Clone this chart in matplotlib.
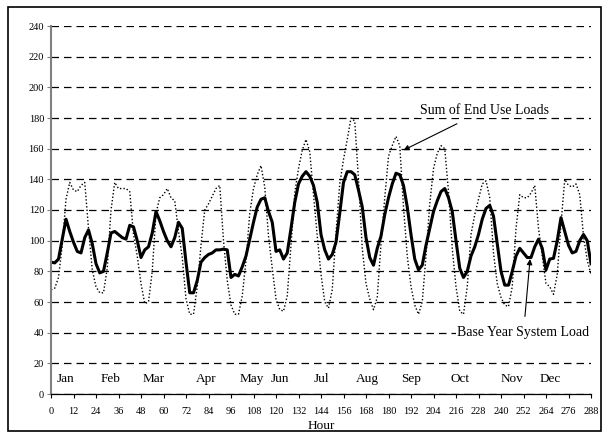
import numpy as np
import matplotlib
matplotlib.use('Agg')
import matplotlib.pyplot as plt
from matplotlib.patches import Rectangle

plt.rcParams['font.family'] = ['Liberation Serif', 'DejaVu Serif']

# hour of the 12 typical days (one 24h day per month), sampled every 2 hours
hours = np.arange(0, 289, 2)

# Base Year System Load (solid)
base_load = [86, 85.5, 88, 101, 114, 106, 99, 93, 92, 102, 107, 98,
             85, 79, 80, 92, 105, 106, 104, 102, 101, 110, 109, 100,
             89, 94, 96, 105, 119, 113, 106, 100, 96, 102, 112, 108,
             86, 66, 66, 74, 86, 89, 91, 92, 94, 94, 94.5, 94,
             76, 78, 77, 83, 90, 101, 112, 122, 127, 128, 119, 112,
             93, 94, 88, 92, 108, 125, 137, 142, 145, 142, 136, 125,
             104, 94, 88, 91, 99, 118, 138, 145, 145, 143, 133, 122,
             102, 89, 84, 95, 103, 117, 128, 137, 144, 143, 136, 122,
             104, 88, 81, 84, 97, 108, 119, 126, 132, 134, 128, 119,
             100, 82, 76, 80, 90, 96, 104, 114, 121, 123, 116, 98,
             80, 71, 71, 80, 90, 95, 92, 89, 89, 96, 101, 95,
             81, 88, 88.5, 100, 115, 106, 97, 92, 93, 100, 104, 100,
             85]

# Sum of End Use Loads (dotted)
end_use = [68, 69, 76, 97, 127, 138, 133, 132, 136, 138, 108, 81,
           70, 66, 66, 82, 120, 138, 134, 134, 134, 132, 104, 90,
           72, 59, 60, 80, 118, 128, 130, 134, 128, 126, 106, 89,
           62, 52, 52, 70, 97, 120, 124, 129, 134, 136, 100, 74,
           58, 52, 52, 64, 87, 118, 134, 143, 149, 135, 103, 82,
           62, 55, 54, 64, 97, 131, 147, 159, 166, 158, 130, 103,
           78, 60, 56, 68, 105, 137, 153, 166, 180, 178, 140, 95,
           72, 62, 55, 63, 98, 128, 155, 162, 168, 162, 122, 90,
           70, 58, 52, 60, 90, 124, 147, 157, 162, 160, 132, 95,
           70, 54, 52, 70, 104, 117, 127, 137, 139, 128, 92, 72,
           63, 58, 57, 70, 108, 130, 128, 128, 131, 136, 108, 90,
           72, 70, 65, 78, 111, 140, 136, 135, 137, 130, 103, 87,
           78]

months = ['Jan', 'Feb', 'Mar', 'Apr', 'May', 'Jun',
          'Jul', 'Aug', 'Sep', 'Oct', 'Nov', 'Dec']
month_pos = [8, 32, 55, 83, 107, 122, 144, 169, 192, 218, 246, 266]

fig = plt.figure(figsize=(6.04, 4.34), dpi=100)
ax = fig.add_axes([51/604, 1 - 394/434, 540/604, 368/434])

ax.plot(hours, end_use, color='black', lw=1.0, linestyle=(0, (1, 1.5)))
ax.plot(hours, base_load, color='black', lw=2.2)

ax.set_xlim(0, 288)
ax.set_ylim(0, 240)
ax.set_xticks(np.arange(0, 289, 12))
ax.set_yticks(np.arange(0, 241, 20))
ax.yaxis.grid(True, color='black', lw=0.9, linestyle=(0, (6, 4)))
ax.set_axisbelow(True)
ax.tick_params(labelsize=7.5, direction='out', length=3, width=0.8, pad=2)
ax.tick_params(axis='x', pad=6)

for s in ['top', 'right']:
    ax.spines[s].set_visible(False)
ax.spines['left'].set_color('#808080')
ax.spines['left'].set_linewidth(1.5)
ax.spines['bottom'].set_linewidth(0.9)
ax.tick_params(axis='y', color='#808080')

for m, p in zip(months, month_pos):
    ax.text(p, 10, m, ha='center', va='center', fontsize=9.5)

ax.set_xlabel('Hour', fontsize=9.5, labelpad=3)

ax.annotate('Sum of End Use Loads', xy=(188, 159), xytext=(231, 185),
            ha='center', va='center', fontsize=10,
            bbox=dict(facecolor='white', edgecolor='none', pad=1),
            arrowprops=dict(arrowstyle='-|>', color='black', lw=0.8,
                            mutation_scale=8, shrinkA=9, shrinkB=0))
ax.annotate('Base Year System Load', xy=(255.5, 88), xytext=(252, 40),
            ha='center', va='center', fontsize=10,
            bbox=dict(facecolor='white', edgecolor='none', pad=1),
            arrowprops=dict(arrowstyle='-|>', color='black', lw=0.8,
                            mutation_scale=8, shrinkA=6, shrinkB=0))

fig.patches.append(Rectangle((8/604, 3/434), 593/604, 424/434,
                             transform=fig.transFigure, fill=False,
                             edgecolor='black', lw=1.2))

fig.savefig('out.png', dpi=100)
